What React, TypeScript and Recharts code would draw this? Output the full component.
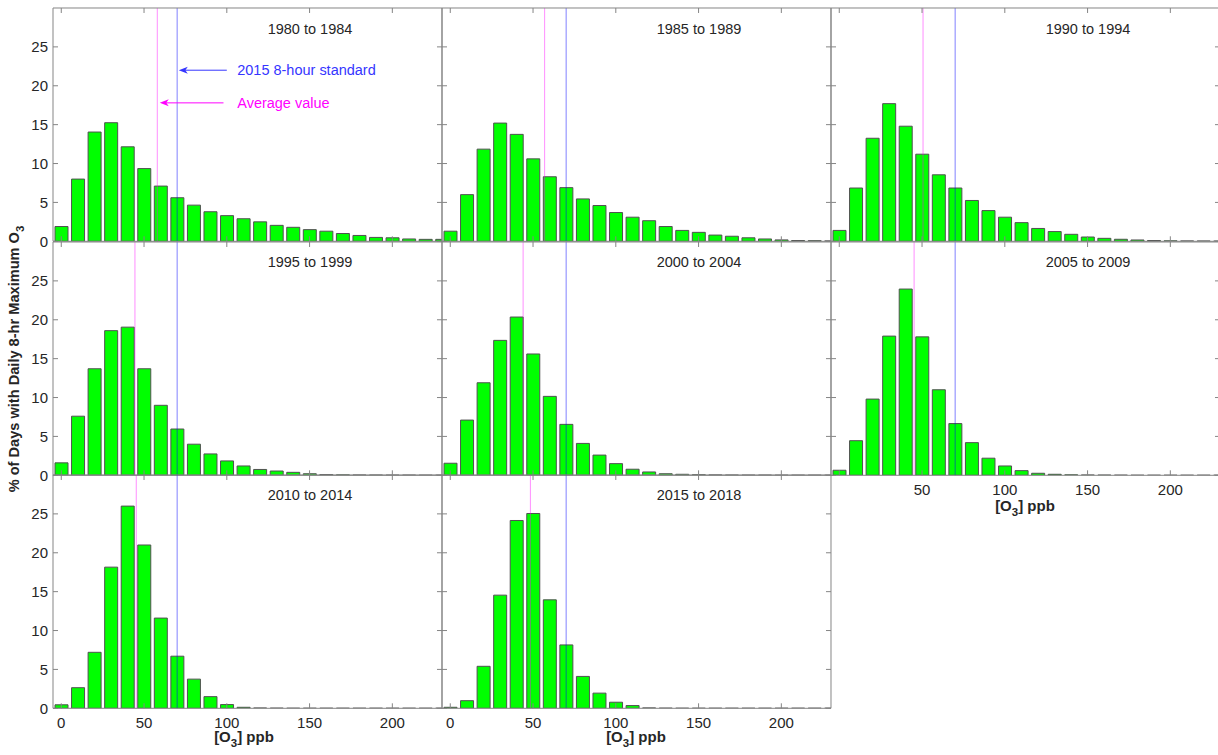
import React from 'react';
import { BarChart, Bar, XAxis, YAxis, ReferenceLine, ReferenceDot } from 'recharts';

// histogram bins (ppb) and axis ticks
const BINS = [0, 10, 20, 30, 40, 50, 60, 70, 80, 90, 100, 110, 120, 130, 140, 150, 160, 170, 180, 190, 200, 210, 220, 230];
const X_TICKS = [0, 50, 100, 150, 200];
const Y_TICKS = [0, 5, 10, 15, 20, 25];

const PERIODS = ['1980 to 1984', '1985 to 1989', '1990 to 1994', '1995 to 1999', '2000 to 2004', '2005 to 2009', '2010 to 2014', '2015 to 2018'];

// % of days in each bin
const PCT_1980 = [1.9, 8.0, 14.05, 15.25, 12.15, 9.35, 7.1, 5.6, 4.65, 3.8, 3.3, 2.9, 2.5, 2.05, 1.8, 1.5, 1.3, 1.0, 0.75, 0.5, 0.45, 0.3, 0.25, 0.25];
const PCT_1985 = [1.3, 6.0, 11.85, 15.2, 13.75, 10.6, 8.3, 6.9, 5.45, 4.6, 3.7, 3.1, 2.65, 1.9, 1.4, 1.15, 0.8, 0.65, 0.45, 0.3, 0.18, 0.1, 0.08, 0.05];
const PCT_1990 = [1.4, 6.85, 13.25, 17.7, 14.8, 11.2, 8.55, 6.85, 5.25, 3.95, 3.1, 2.4, 1.65, 1.25, 0.9, 0.55, 0.38, 0.26, 0.17, 0.1, 0.06, 0.05, 0.04, 0.03];
const PCT_1995 = [1.6, 7.6, 13.7, 18.6, 19.05, 13.7, 9.0, 5.95, 4.0, 2.75, 1.85, 1.2, 0.75, 0.55, 0.38, 0.2, 0.1, 0.06, 0.04, 0.03, 0.02, 0.02, 0.01, 0.01];
const PCT_2000 = [1.55, 7.1, 11.9, 17.35, 20.35, 15.6, 10.15, 6.55, 4.1, 2.6, 1.5, 0.78, 0.43, 0.2, 0.13, 0.08, 0.05, 0.03, 0.02, 0.02, 0.01, 0.01, 0.01, 0.01];
const PCT_2005 = [0.65, 4.45, 9.8, 17.9, 23.95, 17.8, 11.0, 6.65, 4.2, 2.2, 1.2, 0.6, 0.26, 0.13, 0.06, 0.04, 0.03, 0.02, 0.01, 0.01, 0.01, 0.01, 0.01, 0.01];
const PCT_2010 = [0.45, 2.65, 7.2, 18.15, 26.0, 21.0, 11.6, 6.7, 3.75, 1.5, 0.48, 0.13, 0.04, 0.02, 0.01, 0.01, 0.01, 0.01, 0.01, 0.01, 0.01, 0.01, 0.01, 0.01];
const PCT_2015 = [0.13, 0.98, 5.4, 14.55, 24.15, 25.05, 13.95, 8.15, 4.1, 1.95, 0.78, 0.35, 0.05, 0.02, 0.01, 0.01, 0.01, 0.01, 0.01, 0.01, 0.01, 0.01, 0.01, 0.01];
const SERIES = [PCT_1980, PCT_1985, PCT_1990, PCT_1995, PCT_2000, PCT_2005, PCT_2010, PCT_2015];

const AVERAGES = [58, 57, 50.6, 44.5, 44, 45.2, 45.3, 48.4];
const STANDARD = 70;

// arrows in the first panel: text, tail x, tip x, y (data units)
const ANNOTATIONS = [
  { text: '2015 8-hour standard', color: '#3535ff', from: 100, to: 71, textAt: 106.3, y: 22 },
  { text: 'Average value', color: '#ff00ff', from: 98, to: 59.5, textAt: 106.3, y: 17.8 },
];

const COL_X = [53, 442, 831];
const ROW_Y = [8, 241.5, 474.5];
const PLOT_W = 389;
const PLOT_H = 233.3;
const LEFT_W = 50;
const RIGHT_W = 6;
const TOP_H = 6;
const BOTTOM_H = 40;

const FONT = '"Liberation Sans", Arial, sans-serif';
const AXIS = '#858585';
const TEXT = '#262626';

const arrowShape = (color: string) => (p: any) => {
  const { x1, y1, x2, y2 } = p;
  return (
    <g>
      <line x1={x1} y1={y1} x2={x2 + 4} y2={y2} stroke={color} strokeWidth={1} />
      <path d={`M${x2},${y2} L${x2 + 9},${y2 - 3.5} L${x2 + 6.5},${y2} L${x2 + 9},${y2 + 3.5} Z`} fill={color} />
    </g>
  );
};

const textShape = (text: string, color: string) => (p: any) => (
  <text x={p.cx} y={p.cy} dy="0.35em" fill={color} fontSize={14.5} fontFamily={FONT}>
    {text}
  </text>
);

function Panel({ idx }: { idx: number }) {
  const row = Math.floor(idx / 3);
  const col = idx % 3;
  const data = BINS.map((b, i) => ({ bin: b, pct: SERIES[idx][i] }));
  const showX = idx >= 5;
  const hideZero = idx === 5;
  const showY = col === 0;
  const blank = () => '';

  return (
    <div style={{ position: 'absolute', left: COL_X[col] - LEFT_W, top: ROW_Y[row] - TOP_H }}>
      <BarChart
        width={LEFT_W + PLOT_W + RIGHT_W}
        height={TOP_H + PLOT_H + BOTTOM_H}
        data={data}
        margin={{ top: 0, right: 0, bottom: 0, left: 0 }}
      >
        <XAxis
          xAxisId="b"
          dataKey="bin"
          type="number"
          domain={[-5, 230]}
          ticks={X_TICKS}
          allowDataOverflow
          height={BOTTOM_H}
          stroke={AXIS}
          tickSize={-5}
          tickMargin={14}
          tick={{ fill: TEXT, fontSize: 15, fontFamily: FONT }}
          tickFormatter={showX ? (v: number) => (hideZero && v === 0 ? '' : String(v)) : blank}
        />
        <XAxis
          xAxisId="t"
          dataKey="bin"
          type="number"
          orientation="top"
          domain={[-5, 230]}
          ticks={X_TICKS}
          allowDataOverflow
          height={TOP_H}
          stroke={AXIS}
          tickSize={-5}
          tickFormatter={blank}
        />
        <YAxis
          yAxisId="l"
          type="number"
          domain={[0, 30]}
          ticks={Y_TICKS}
          allowDataOverflow
          width={LEFT_W}
          stroke={AXIS}
          tickSize={-5}
          tickMargin={10}
          tick={{ fill: TEXT, fontSize: 15, fontFamily: FONT }}
          tickFormatter={showY ? (v: number) => String(v) : blank}
        />
        <YAxis
          yAxisId="r"
          orientation="right"
          type="number"
          domain={[0, 30]}
          ticks={Y_TICKS}
          allowDataOverflow
          width={RIGHT_W}
          stroke={AXIS}
          tickSize={-5}
          tickFormatter={blank}
        />
        <Bar
          xAxisId="b"
          yAxisId="l"
          dataKey="pct"
          fill="#00ff00"
          stroke="#505050"
          strokeWidth={1}
          barSize={13}
          isAnimationActive={false}
        />
        <ReferenceLine xAxisId="b" yAxisId="l" x={AVERAGES[idx]} stroke="#ff00ff" strokeOpacity={0.45} strokeWidth={1} />
        <ReferenceLine xAxisId="b" yAxisId="l" x={STANDARD} stroke="#0000ff" strokeOpacity={0.5} strokeWidth={1} />
        {idx === 0 &&
          ANNOTATIONS.map((a) => (
            <ReferenceLine
              key={a.text + 'l'}
              xAxisId="b"
              yAxisId="l"
              segment={[{ x: a.from, y: a.y }, { x: a.to, y: a.y }]}
              shape={arrowShape(a.color)}
            />
          ))}
        {idx === 0 &&
          ANNOTATIONS.map((a) => (
            <ReferenceDot
              key={a.text + 't'}
              xAxisId="b"
              yAxisId="l"
              x={a.textAt}
              y={a.y}
              r={0}
              shape={textShape(a.text, a.color)}
            />
          ))}
      </BarChart>
      <div
        style={{
          position: 'absolute',
          left: LEFT_W + 257 - 70,
          top: TOP_H + 20.5 - 9,
          width: 140,
          lineHeight: '18px',
          textAlign: 'center',
          fontSize: 14.5,
          color: TEXT,
          fontFamily: FONT,
        }}
      >
        {PERIODS[idx]}
      </div>
    </div>
  );
}

function XLabel({ x, y }: { x: number; y: number }) {
  return (
    <text x={x} y={y} textAnchor="middle" dy="0.35em" fontSize={15} fontWeight="bold" fill={TEXT} fontFamily={FONT}>
      [O<tspan dy={5} fontSize={11.5}>3</tspan>
      <tspan dy={-5}>] ppb</tspan>
    </text>
  );
}

export default function App() {
  return (
    <div style={{ position: 'relative', width: 1218, height: 755, overflow: 'hidden', background: '#fff' }}>
      <style>{'body{margin:0}'}</style>
      {PERIODS.map((p, i) => (
        <Panel key={p} idx={i} />
      ))}
      <svg width={1218} height={755} style={{ position: 'absolute', left: 0, top: 0, pointerEvents: 'none' }}>
        <text
          transform="translate(13.5,359) rotate(-90)"
          textAnchor="middle"
          dy="0.35em"
          fontSize={14.6}
          fontWeight="bold"
          fill={TEXT}
          fontFamily={FONT}
        >
          % of Days with Daily 8-hr Maximum O<tspan dy={5} fontSize={11.5}>3</tspan>
        </text>
        <XLabel x={244} y={737} />
        <XLabel x={636} y={737} />
        <XLabel x={1025} y={506} />
      </svg>
    </div>
  );
}
